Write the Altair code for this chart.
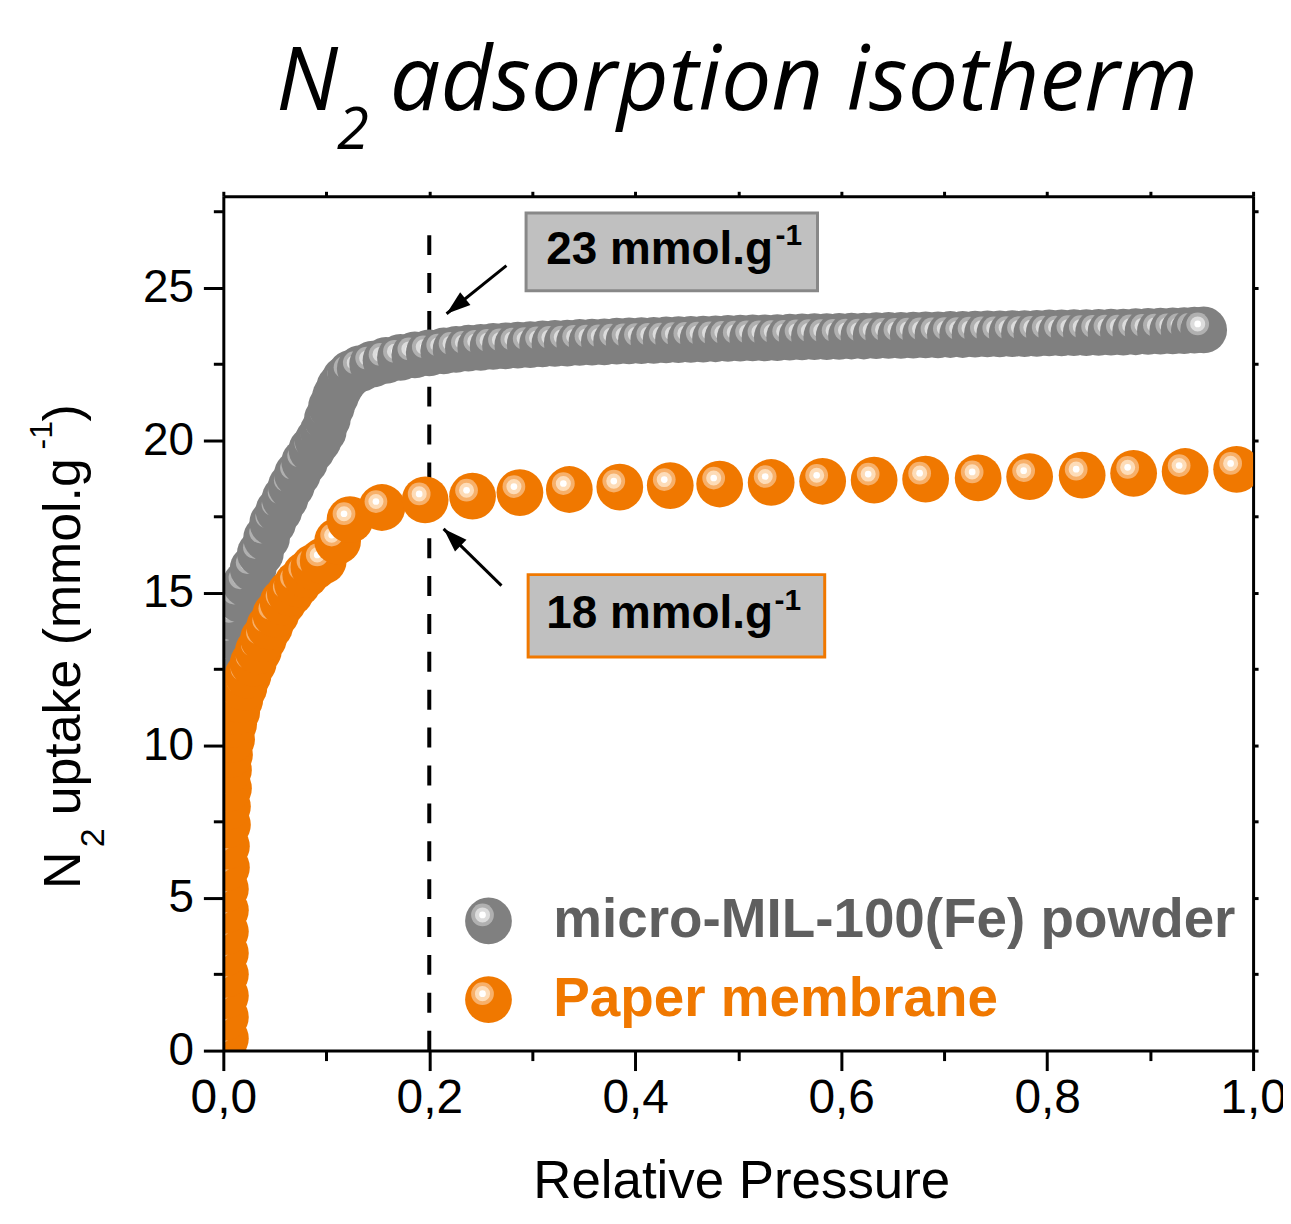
import math
import altair as alt
import pandas as pd

# ---------------- data ----------------
gray_x = [0.002, 0.004, 0.007, 0.011, 0.016, 0.022, 0.029, 0.036, 0.042, 0.048,
          0.054, 0.060, 0.066, 0.072, 0.079, 0.086, 0.092, 0.097, 0.101, 0.105,
          0.109, 0.113, 0.118, 0.124, 0.133, 0.145, 0.158, 0.172, 0.186, 0.200,
          0.214,
          0.226, 0.238, 0.250, 0.262, 0.274, 0.286, 0.298, 0.310, 0.322, 0.334,
          0.346, 0.358, 0.370, 0.382, 0.394, 0.406, 0.418, 0.430, 0.442, 0.454,
          0.466, 0.478, 0.490, 0.502, 0.514, 0.526, 0.538, 0.550, 0.562, 0.574,
          0.586, 0.598, 0.610, 0.622, 0.634, 0.646, 0.658, 0.670, 0.682, 0.694,
          0.706, 0.718, 0.730, 0.742, 0.754, 0.766, 0.778, 0.790, 0.802, 0.814,
          0.826, 0.838, 0.850, 0.862, 0.874, 0.886, 0.898, 0.910, 0.922, 0.933,
          0.943, 0.952]
gray_y = [12.4, 13.0, 13.6, 14.2, 14.8, 15.3, 15.8, 16.3, 16.8, 17.3,
          17.7, 18.1, 18.5, 18.9, 19.3, 19.7, 20.0, 20.3, 20.7, 21.1,
          21.45, 21.75, 22.0, 22.2, 22.35, 22.5, 22.62, 22.72, 22.8, 22.87,
          22.93,
          22.98, 23.02, 23.05, 23.08, 23.10, 23.12, 23.14, 23.16, 23.18, 23.19,
          23.21, 23.22, 23.23, 23.25, 23.26, 23.27, 23.28, 23.29, 23.30, 23.31,
          23.32, 23.33, 23.34, 23.35, 23.36, 23.36, 23.37, 23.38, 23.39, 23.40,
          23.40, 23.41, 23.42, 23.42, 23.43, 23.44, 23.44, 23.45, 23.46, 23.46,
          23.47, 23.47, 23.48, 23.49, 23.49, 23.50, 23.50, 23.51, 23.52, 23.52,
          23.53, 23.53, 23.54, 23.55, 23.55, 23.56, 23.57, 23.58, 23.59, 23.60,
          23.61, 23.62]

orange_x = [0.002, 0.002, 0.002, 0.002, 0.002, 0.002, 0.002, 0.002, 0.002, 0.003,
            0.003, 0.004, 0.004, 0.005, 0.005, 0.006, 0.008, 0.010, 0.013, 0.016,
            0.020, 0.024, 0.029, 0.034, 0.039, 0.045, 0.051, 0.058, 0.065, 0.072,
            0.080, 0.088,
            0.097, 0.111, 0.123, 0.154, 0.196, 0.242, 0.288, 0.336, 0.385, 0.434,
            0.482, 0.532, 0.582, 0.632, 0.682, 0.733, 0.783, 0.834, 0.884, 0.934,
            0.984]
orange_y = [-0.3, 0.4, 1.1, 1.8, 2.5, 3.2, 3.9, 4.6, 5.3, 6.0,
            6.7, 7.4, 8.0, 8.6, 9.2, 9.7, 10.2, 10.7, 11.1, 11.5,
            11.9, 12.3, 12.7, 13.1, 13.5, 13.9, 14.3, 14.7, 15.0, 15.3,
            15.6, 15.85,
            16.05, 16.7, 17.4, 17.8, 18.05, 18.17, 18.29, 18.39, 18.47, 18.52,
            18.57, 18.62, 18.66, 18.70, 18.73, 18.77, 18.81, 18.86, 18.92, 18.98,
            19.05]

series_names = ["micro-MIL-100(Fe) powder", "Paper membrane"]

x_major = [0.0, 0.2, 0.4, 0.6, 0.8, 1.0]
x_minor = [0.1, 0.3, 0.5, 0.7, 0.9]
x_all = [0.0, 0.1, 0.2, 0.3, 0.4, 0.5, 0.6, 0.7, 0.8, 0.9, 1.0]
y_major = [0, 5, 10, 15, 20, 25]
y_minor = [2.5, 7.5, 12.5, 17.5, 22.5, 27.5]
y_all = [0, 2.5, 5, 7.5, 10, 12.5, 15, 17.5, 20, 22.5, 25, 27.5]

# annotations (data coordinates)
dash_x = 0.2
dash_top = 27.05
box_labels = ["23 mmol.g", "18 mmol.g"]
box_sup = ["-1", "-1"]
box_x1 = [0.294, 0.296]
box_x2 = [0.577, 0.584]
box_y1 = [27.45, 15.60]
box_y2 = [24.90, 12.90]
box_text_x = [0.3137, 0.3137]
box_text_y = [25.78, 13.84]
box_sup_x = [0.5363, 0.5353]
box_sup_y = [26.40, 14.43]
arrow_tail_x = [0.2749, 0.2701]
arrow_tail_y = [25.73, 15.24]
arrow_tip_x = [0.2168, 0.2139]
arrow_tip_y = [24.15, 17.10]
legend_sym_x = [0.2575, 0.2575]
legend_sym_y = [4.25, 1.67]
legend_text_x = [0.3204, 0.3204]
legend_text_y = [3.72, 1.14]

# ---------------- styling ----------------
W, H = 1033, 857
XMAX, YMAX = 1.0, 28.0
GRAY = "#808080"
ORANGE = "#f07800"
FONT = "Liberation Sans"

# (vega symbol size = diameter^2, colour, x offset px, y offset px): body + glossy highlight
STYLE = {
    "gray": [(2200, GRAY, 0, 0), (520, "#b0b0b0", -6, -6), (230, "#dcdcdc", -6, -6), (45, "#ffffff", -6, -6)],
    "orange": [(2200, ORANGE, 0, 0), (520, "#f7b06a", -6, -6), (230, "#fddcb8", -6, -6), (45, "#ffffff", -6, -6)],
}


def marker_rows(xs, ys, style, base):
    assert len(xs) == len(ys)
    rows = []
    for i, (x, y) in enumerate(zip(xs, ys)):
        for j, (s, c, dx, dy) in enumerate(STYLE[style]):
            rows.append({"x": x + dx * XMAX / W, "y": y - dy * YMAX / H,
                         "size": s, "fill": c, "order": base + i * 10 + j})
    return rows


pts = pd.DataFrame(marker_rows(gray_x, gray_y, "gray", 0) +
                   marker_rows(orange_x, orange_y, "orange", 100000))
leg = pd.DataFrame(marker_rows([legend_sym_x[0]], [legend_sym_y[0]], "gray", 0) +
                   marker_rows([legend_sym_x[1]], [legend_sym_y[1]], "orange", 100))

xs = alt.Scale(domain=[0, XMAX], nice=False, zero=False)
ys = alt.Scale(domain=[0, YMAX], nice=False, zero=False)

ax_common = dict(title=None, grid=False, domainColor="black", domainWidth=3,
                 tickColor="black", tickWidth=3, labelColor="black", labelFont=FONT)

x_main = alt.Axis(orient="bottom", values=x_major, tickSize=20, labelFontSize=48,
                  labelPadding=4, labelFlush=False, labelOverlap=False, zindex=1,
                  labelExpr="replace(format(datum.value, '.1f'), '.', ',')", **ax_common)
y_main = alt.Axis(orient="left", values=y_major, tickSize=20, labelFontSize=46,
                  labelPadding=10, labelOverlap=False, zindex=1, format="d", **ax_common)


def X(f, axis=None):
    return alt.X(f, scale=xs, axis=axis)


def Y(f, axis=None):
    return alt.Y(f, scale=ys, axis=axis)


def marker_layer(df, clip, with_axes):
    return alt.Chart(df).mark_circle(opacity=1, clip=clip).encode(
        x=X("x:Q", x_main if with_axes else None),
        y=Y("y:Q", y_main if with_axes else None),
        size=alt.Size("size:Q", scale=None),
        color=alt.Color("fill:N", scale=None),
        order=alt.Order("order:Q"),
    )


one = pd.DataFrame({"x": [0.5], "y": [1.0]})

minor_axes = alt.Chart(one).mark_point(opacity=0).encode(
    x=X("x:Q", alt.Axis(orient="bottom", values=x_minor, tickSize=10,
                        labels=False, domain=False, **ax_common)),
    y=Y("y:Q", alt.Axis(orient="left", values=y_minor, tickSize=10,
                        labels=False, domain=False, **ax_common)),
)
frame_axes = alt.Chart(one).mark_point(opacity=0).encode(
    x=X("x:Q", alt.Axis(orient="top", values=x_all, tickSize=5, labels=False, **ax_common)),
    y=Y("y:Q", alt.Axis(orient="right", values=y_all, tickSize=5, labels=False, **ax_common)),
)

dash = alt.Chart(pd.DataFrame({"x": [dash_x], "y": [0.0], "y2": [dash_top]})).mark_rule(
    strokeDash=[20, 18], strokeWidth=4, color="black").encode(
    x=X("x:Q"), y=Y("y:Q"), y2="y2:Q")

boxes_df = pd.DataFrame({"x1": box_x1, "x2": box_x2, "y1": box_y1, "y2": box_y2,
                         "stroke": ["#888888", ORANGE]})
boxes = alt.Chart(boxes_df).mark_rect(fill="#c0c0c0", strokeWidth=3).encode(
    x=X("x1:Q"), x2="x2:Q", y=Y("y1:Q"), y2="y2:Q", stroke=alt.Stroke("stroke:N", scale=None))

box_txt = alt.Chart(pd.DataFrame({"x": box_text_x, "y": box_text_y, "t": box_labels})).mark_text(
    font=FONT, fontSize=46, fontWeight="bold", color="black", align="left", baseline="alphabetic"
).encode(x=X("x:Q"), y=Y("y:Q"), text="t:N")
box_sup_txt = alt.Chart(pd.DataFrame({"x": box_sup_x, "y": box_sup_y, "t": box_sup})).mark_text(
    font=FONT, fontSize=30, fontWeight="bold", color="black", align="left", baseline="alphabetic"
).encode(x=X("x:Q"), y=Y("y:Q"), text="t:N")

ang = []
for tx, ty, hx, hy in zip(arrow_tail_x, arrow_tail_y, arrow_tip_x, arrow_tip_y):
    dxp = (hx - tx) * W / XMAX
    dyp = -(hy - ty) * H / YMAX
    ang.append(math.degrees(math.atan2(dxp, -dyp)) % 360)
arr_df = pd.DataFrame({"tx": arrow_tail_x, "ty": arrow_tail_y, "hx": arrow_tip_x,
                       "hy": arrow_tip_y, "angle": ang})
arrow_lines = alt.Chart(arr_df).mark_rule(strokeWidth=3, color="black").encode(
    x=X("tx:Q"), y=Y("ty:Q"), x2="hx:Q", y2="hy:Q")
arrow_heads = alt.Chart(arr_df).mark_point(
    shape="M0,0L0.75,2.2L-0.75,2.2Z", filled=True, size=480, color="black", opacity=1
).encode(x=X("hx:Q"), y=Y("hy:Q"), angle=alt.Angle("angle:Q", scale=None))

leg_txt = alt.Chart(pd.DataFrame({"x": legend_text_x, "y": legend_text_y, "t": series_names,
                                  "c": ["#5f5f5f", ORANGE]})).mark_text(
    font=FONT, fontSize=55, fontWeight="bold", align="left", baseline="alphabetic"
).encode(x=X("x:Q"), y=Y("y:Q"), text="t:N", color=alt.Color("c:N", scale=None))


def ptext(txt, x, y, size, **kw):
    return alt.Chart(pd.DataFrame({"t": [txt]})).mark_text(fontSize=size, **kw).encode(
        x=alt.value(x), y=alt.value(y), text="t:N")


title_kw = dict(font="Open Sans", fontStyle="italic", color="black", align="left", baseline="alphabetic")
ytitle_kw = dict(font=FONT, color="black", align="left", baseline="alphabetic", angle=270)

texts = [
    ptext("N", 53, -87, 88, **title_kw),
    ptext("2", 114, -47, 58, **title_kw),
    ptext("adsorption isotherm", 167, -87, 90, **title_kw),
    ptext("Relative Pressure", 520, 1005, 53, font=FONT, color="black", align="center",
          baseline="alphabetic"),
    ptext("N", -144, 695, 52, **ytitle_kw),
    ptext("2", -120, 653, 34, **ytitle_kw),
    ptext("uptake (mmol.g", -144, 621, 52, **ytitle_kw),
    ptext("-1", -172, 254, 32, **ytitle_kw),
    ptext(")", -144, 226, 52, **ytitle_kw),
]

chart = alt.layer(
    minor_axes, frame_axes, dash, marker_layer(pts, True, True),
    boxes, box_txt, box_sup_txt, arrow_lines, arrow_heads,
    marker_layer(leg, False, False), leg_txt, *texts
).resolve_axis(x="independent", y="independent").properties(
    width=W, height=H,
    autosize=alt.AutoSizeParams(type="none"),
    padding={"left": 216, "top": 187, "right": 30, "bottom": 150},
).configure_view(stroke=None).configure(background="white")

chart.save("out.html", embed_options={"renderer": "svg", "actions": False})
